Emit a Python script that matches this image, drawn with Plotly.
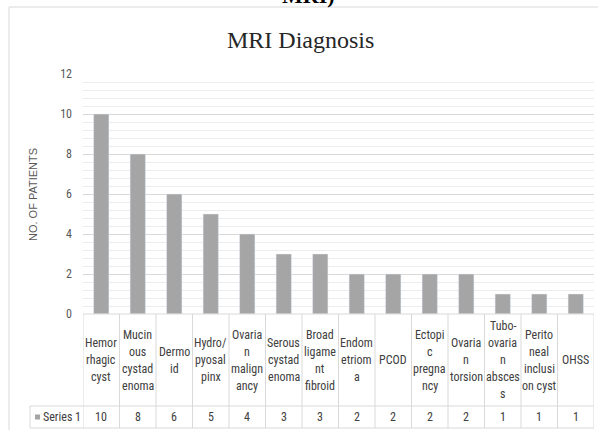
import plotly.graph_objects as go

categories = ["Hemorrhagic cyst", "Mucinous cystadenoma", "Dermoid", "Hydro/pyosalpinx",
              "Ovarian malignancy", "Serous cystadenoma", "Broad ligament fibroid",
              "Endometrioma", "PCOD", "Ectopic pregnancy", "Ovarian torsion",
              "Tubo-ovarian abscess", "Peritoneal inclusion cyst", "OHSS"]
values = [10, 8, 6, 5, 4, 3, 3, 2, 2, 2, 2, 1, 1, 1]
wrapped_labels = [
    ["Hemor", "rhagic", "cyst"],
    ["Mucin", "ous", "cystad", "enoma"],
    ["Dermo", "id"],
    ["Hydro/", "pyosal", "pinx"],
    ["Ovaria", "n", "malign", "ancy"],
    ["Serous", "cystad", "enoma"],
    ["Broad", "ligame", "nt", "fibroid"],
    ["Endom", "etriom", "a"],
    ["PCOD"],
    ["Ectopi", "c", "pregna", "ncy"],
    ["Ovaria", "n", "torsion"],
    ["Tubo-", "ovaria", "n", "absces", "s"],
    ["Perito", "neal", "inclusi", "on cyst"],
    ["OHSS"],
]
series_name = "Series 1"
y_ticks = [0, 2, 4, 6, 8, 10, 12]
title = "MRI Diagnosis"
y_title = "NO. OF PATIENTS"

W, H = 598, 430
L, R, T, B = 83, 4, 74, 116
PW, PH = W - L - R, H - T - B


def py(p):
    return (H - B - p) / PH


def px(x):
    return (x - L) / PW


NARROW = "Liberation Sans Narrow, Arial Narrow, Roboto Condensed, Liberation Sans, sans-serif"
GRID = "#d9d9d9"
TXT = "#404040"
BAR = "#a5a5a5"

xs = list(range(len(categories)))

fig = go.Figure(go.Bar(x=xs, y=values, marker_color=BAR, width=0.42, name=series_name,
                       hovertext=categories))

shapes = []
n = len(categories)
for k in range(n + 1):
    shapes.append(dict(type="line", xref="x", yref="paper", x0=k - 0.5, x1=k - 0.5,
                       y0=py(314), y1=py(428), line=dict(color=GRID, width=1)))
shapes.append(dict(type="line", xref="paper", yref="paper", x0=0, x1=1,
                   y0=py(314), y1=py(314), line=dict(color=GRID, width=1)))
for yy in (406, 428):
    shapes.append(dict(type="line", xref="paper", yref="paper", x0=px(30), x1=1,
                       y0=py(yy), y1=py(yy), line=dict(color=GRID, width=1)))
shapes.append(dict(type="line", xref="paper", yref="paper", x0=px(30), x1=px(30),
                   y0=py(406), y1=py(428), line=dict(color=GRID, width=1)))
shapes.append(dict(type="rect", xref="paper", yref="paper", x0=px(35), x1=px(40),
                   y0=py(414.5), y1=py(419.5), fillcolor=BAR, line=dict(width=0)))
shapes.append(dict(type="line", xref="paper", yref="paper", x0=px(9), x1=px(600),
                   y0=py(7), y1=py(7), line=dict(color=GRID, width=1)))
shapes.append(dict(type="line", xref="paper", yref="paper", x0=px(9), x1=px(9),
                   y0=py(7), y1=py(432), line=dict(color=GRID, width=1)))

annotations = []
cell_mid = (314 + 406) / 2
line_h = 17
for i, lines in enumerate(wrapped_labels):
    m = len(lines)
    for j, t in enumerate(lines):
        yc = cell_mid + (j - (m - 1) / 2) * line_h
        annotations.append(dict(x=i, xref="x", y=py(yc), yref="paper", text=t,
                                showarrow=False, xanchor="center", yanchor="middle",
                                font=dict(family=NARROW, size=12, color=TXT)))
for i, v in enumerate(values):
    annotations.append(dict(x=i, xref="x", y=py(417), yref="paper", text=str(v),
                            showarrow=False, xanchor="center", yanchor="middle",
                            font=dict(family=NARROW, size=12, color=TXT)))
annotations.append(dict(x=px(41), xref="paper", y=py(417), yref="paper", text=series_name,
                        showarrow=False, xanchor="left", yanchor="middle",
                        font=dict(family=NARROW, size=12, color=TXT)))
annotations.append(dict(x=px(300), xref="paper", y=py(40), yref="paper", text=title,
                        showarrow=False, xanchor="center", yanchor="middle",
                        font=dict(family="Liberation Serif, Times New Roman, serif", size=24,
                                  color="#262626")))
annotations.append(dict(x=px(308), xref="paper", y=py(10), yref="paper", text="<b>MRI)</b>",
                        showarrow=False, xanchor="center", yanchor="bottom",
                        font=dict(family="Liberation Serif, Times New Roman, serif", size=22,
                                  color="#000000")))
annotations.append(dict(x=px(33), xref="paper", y=py(195), yref="paper", text=y_title,
                        showarrow=False, xanchor="center", yanchor="middle", textangle=-90,
                        font=dict(family="Liberation Sans, Arial, sans-serif", size=11,
                                  color="#595959")))

fig.update_layout(
    width=W, height=H,
    margin=dict(l=L, r=R, t=T, b=B, pad=0),
    paper_bgcolor="white", plot_bgcolor="white",
    showlegend=False,
    shapes=shapes,
    annotations=annotations,
    xaxis=dict(range=[-0.5, n - 0.5], showticklabels=False, showgrid=False,
               zeroline=False, showline=False, ticks=""),
    yaxis=dict(range=[0, 12], tickvals=y_ticks, showgrid=True, gridcolor=GRID, gridwidth=1,
               zeroline=False, showline=False, ticks="",
               ticklabelstandoff=10,
               tickfont=dict(family=NARROW, size=12, color="#595959"),
               minor=dict(dtick=0.4, showgrid=True, gridcolor="#ececec", gridwidth=1)),
)

fig.write_html("out.html", config={"displayModeBar": False},
               post_script="document.body.style.margin='0';document.body.style.overflow='hidden';")
